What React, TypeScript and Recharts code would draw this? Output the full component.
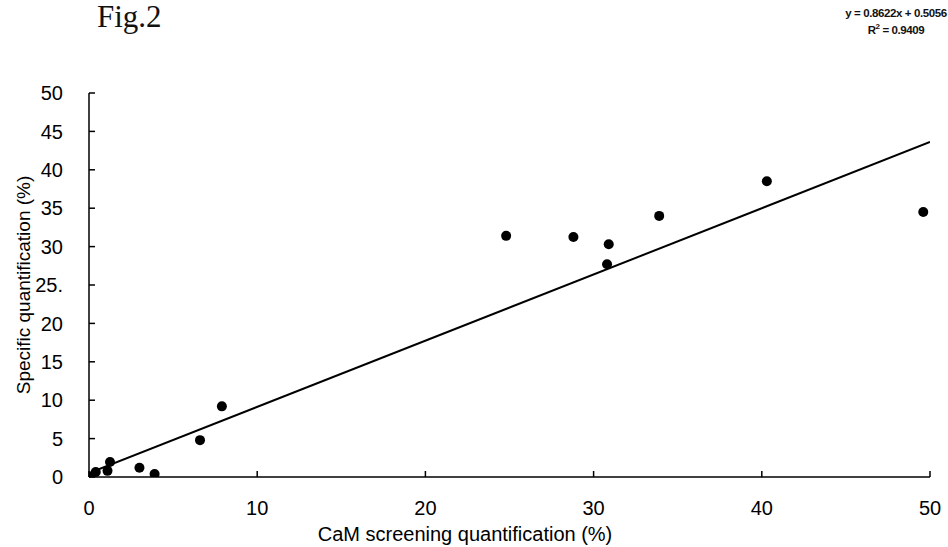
import React from "react";
import {
  ScatterChart,
  Scatter,
  XAxis,
  YAxis,
  Label,
} from "recharts";

// CaM screening (%) vs specific quantification (%)
const screeningX = [0, 0.4, 1.1, 1.25, 3.0, 3.9, 6.6, 7.9, 24.8, 28.8, 30.9, 30.8, 33.9, 40.3, 49.6];
const specificY = [0, 0.65, 0.8, 1.95, 1.2, 0.4, 4.8, 9.2, 31.4, 31.25, 30.3, 27.7, 34.0, 38.5, 34.5];

// linear fit y = 0.8622x + 0.5056, end points
const trendX = [0, 50];
const trendY = [0.5056, 43.6156];

const xTicks = [0, 10, 20, 30, 40, 50];
const yTicks = [0, 5, 10, 15, 20, 25, 30, 35, 40, 45, 50];
const yTickLabels = ["0", "5", "10", "15", "20", "25.", "30", "35", "40", "45", "50"];

const points = screeningX.map((x, i) => ({ x, y: specificY[i] }));
const trend = trendX.map((x, i) => ({ x, y: trendY[i] }));

const FONT = '"Liberation Sans", Arial, sans-serif';

function Dot(props: any) {
  const { cx, cy } = props;
  if (cx == null || cy == null) return <g />;
  return <circle cx={cx} cy={cy} r={5} fill="#000" />;
}

export default function App() {
  return (
    <div
      style={{
        position: "absolute",
        left: 0,
        top: 0,
        width: 948,
        height: 547,
        background: "#fff",
        overflow: "hidden",
      }}
    >
      <div
        style={{
          position: "absolute",
          left: 97,
          top: -1,
          fontFamily: '"Liberation Serif", "Times New Roman", serif',
          fontSize: 31,
          color: "#111",
        }}
      >
        Fig.2
      </div>
      <div
        style={{
          position: "absolute",
          left: 836,
          top: 5,
          width: 120,
          textAlign: "center",
          fontFamily: FONT,
          fontSize: 11.5,
          fontWeight: "bold",
          letterSpacing: -0.4,
          lineHeight: "17px",
          whiteSpace: "nowrap",
          color: "#111",
        }}
      >
        <div>y = 0.8622x + 0.5056</div>
        <div>
          R<sup style={{ fontSize: 8, lineHeight: 0 }}>2</sup> = 0.9409
        </div>
      </div>

      <ScatterChart
        width={948}
        height={547}
        margin={{ top: 93, right: 18, left: 0, bottom: 0 }}
      >
        <XAxis
          type="number"
          dataKey="x"
          domain={[0, 50]}
          ticks={xTicks}
          allowDataOverflow
          height={70}
          axisLine={{ stroke: "#000", strokeWidth: 1.5 }}
          tickLine={{ stroke: "#000", strokeWidth: 1.5 }}
          tickSize={-6}
          tickMargin={30}
          tick={{ fill: "#000", fontSize: 20, fontFamily: FONT }}
        >
          <Label
            content={() => (
              <text
                x={465}
                y={541}
                textAnchor="middle"
                fontSize={20}
                fontFamily={FONT}
                fill="#000"
              >
                CaM screening quantification (%)
              </text>
            )}
          />
        </XAxis>
        <YAxis
          type="number"
          dataKey="y"
          domain={[0, 50]}
          ticks={yTicks}
          allowDataOverflow
          width={89}
          axisLine={{ stroke: "#000", strokeWidth: 1.5 }}
          tickLine={{ stroke: "#000", strokeWidth: 1.5 }}
          tickSize={-6}
          tickMargin={32}
          tickFormatter={(v: number) => yTickLabels[yTicks.indexOf(v)] ?? String(v)}
          tick={{ fill: "#000", fontSize: 20, fontFamily: FONT }}
        >
          <Label
            content={() => (
              <text
                x={23}
                y={285}
                transform="rotate(-90, 23, 285)"
                textAnchor="middle"
                dominantBaseline="central"
                fontSize={19}
                fontFamily={FONT}
                fill="#000"
              >
                Specific quantification (%)
              </text>
            )}
          />
        </YAxis>
        <Scatter
          data={trend}
          line={{ stroke: "#000", strokeWidth: 2 }}
          shape={() => <g />}
          isAnimationActive={false}
        />
        <Scatter data={points} shape={Dot} isAnimationActive={false} />
      </ScatterChart>
    </div>
  );
}
